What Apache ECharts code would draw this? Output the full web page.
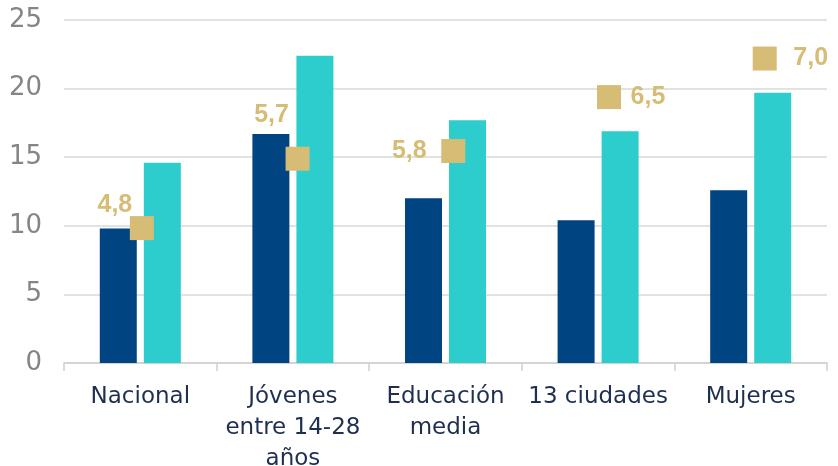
<!DOCTYPE html>
<html>
<head>
<meta charset="utf-8">
<script src="https://cdn.jsdelivr.net/npm/echarts@6/dist/echarts.min.js"></script>
<style>
	html, body { margin: 0; padding: 0; background: #fff; }
	#chart { width: 838px; height: 466px; }
</style>
</head>
<body>
<div id="chart"></div>
<script>
	// categorías
	var categorias = ['Nacional', 'Jóvenes\nentre 14-28\naños', 'Educación\nmedia', '13 ciudades', 'Mujeres'];
	// barras
	var serieOscura = [9.8, 16.7, 12.0, 10.4, 12.6];
	var serieClara = [14.6, 22.4, 17.7, 16.9, 19.7];
	// brecha (cuadrados)
	var brecha = [4.8, 5.7, 5.8, 6.5, 7.0];
	// ticks eje y
	var ticksY = [0, 5, 10, 15, 20, 25];

	// dónde va la etiqueta de cada cuadrado
	var lugarEtiqueta = [[-27, -23], [-26, -44], [-44, 0], [39, 0], [46, 0]];

	var puntos = brecha.map(function (v, i) {
		return {
			value: [i, v],
			label: { offset: lugarEtiqueta[i] }
		};
	});

	var myChart = echarts.init(document.getElementById('chart'));
	myChart.setOption({
		animation: false,
		grid: {
			left: 64, right: 11, top: 20, bottom: 103,
			containLabel: false,
			outerBoundsMode: 'none'
		},
		xAxis: [{
			type: 'category',
			data: categorias,
			axisLine: { lineStyle: { color: '#D0D0D0', width: 1.5 } },
			axisTick: { show: true, length: 8, lineStyle: { color: '#D0D0D0', width: 1.5 } },
			axisLabel: {
				color: '#1F2F4F',
				fontSize: 23,
				fontFamily: 'DejaVu Sans',
				lineHeight: 31,
				margin: 19,
				interval: 0
			}
		}, {
			type: 'value',
			min: -0.5,
			max: 4.4,
			show: false
		}],
		yAxis: [{
			type: 'value',
			min: ticksY[0],
			max: ticksY[ticksY.length - 1],
			interval: 5,
			axisLine: { show: false },
			axisTick: { show: false },
			splitLine: { lineStyle: { color: '#D9D9D9', width: 1.5 } },
			axisLabel: {
				color: '#858585',
				fontSize: 26,
				fontFamily: 'DejaVu Sans',
				margin: 22
			}
		}, {
			type: 'value',
			min: 3.05,
			max: 7.5,
			show: false,
			splitLine: { show: false }
		}],
		series: [{
			type: 'bar',
			data: serieOscura,
			barWidth: 37,
			barGap: '19%',
			itemStyle: { color: '#004481' }
		}, {
			type: 'bar',
			data: serieClara,
			barWidth: 37,
			itemStyle: { color: '#2ECDCD' }
		}, {
			type: 'scatter',
			xAxisIndex: 1,
			yAxisIndex: 1,
			symbol: 'rect',
			symbolSize: 24,
			data: puntos,
			z: 5,
			itemStyle: { color: '#D6BC74', opacity: 1 },
			label: {
				show: true,
				position: 'inside',
				color: '#D6BC74',
				fontSize: 25,
				fontWeight: 'bold',
				fontFamily: 'Liberation Sans',
				formatter: function (p) {
					return p.value[1].toFixed(1).replace('.', ',');
				}
			}
		}]
	});
</script>
</body>
</html>
